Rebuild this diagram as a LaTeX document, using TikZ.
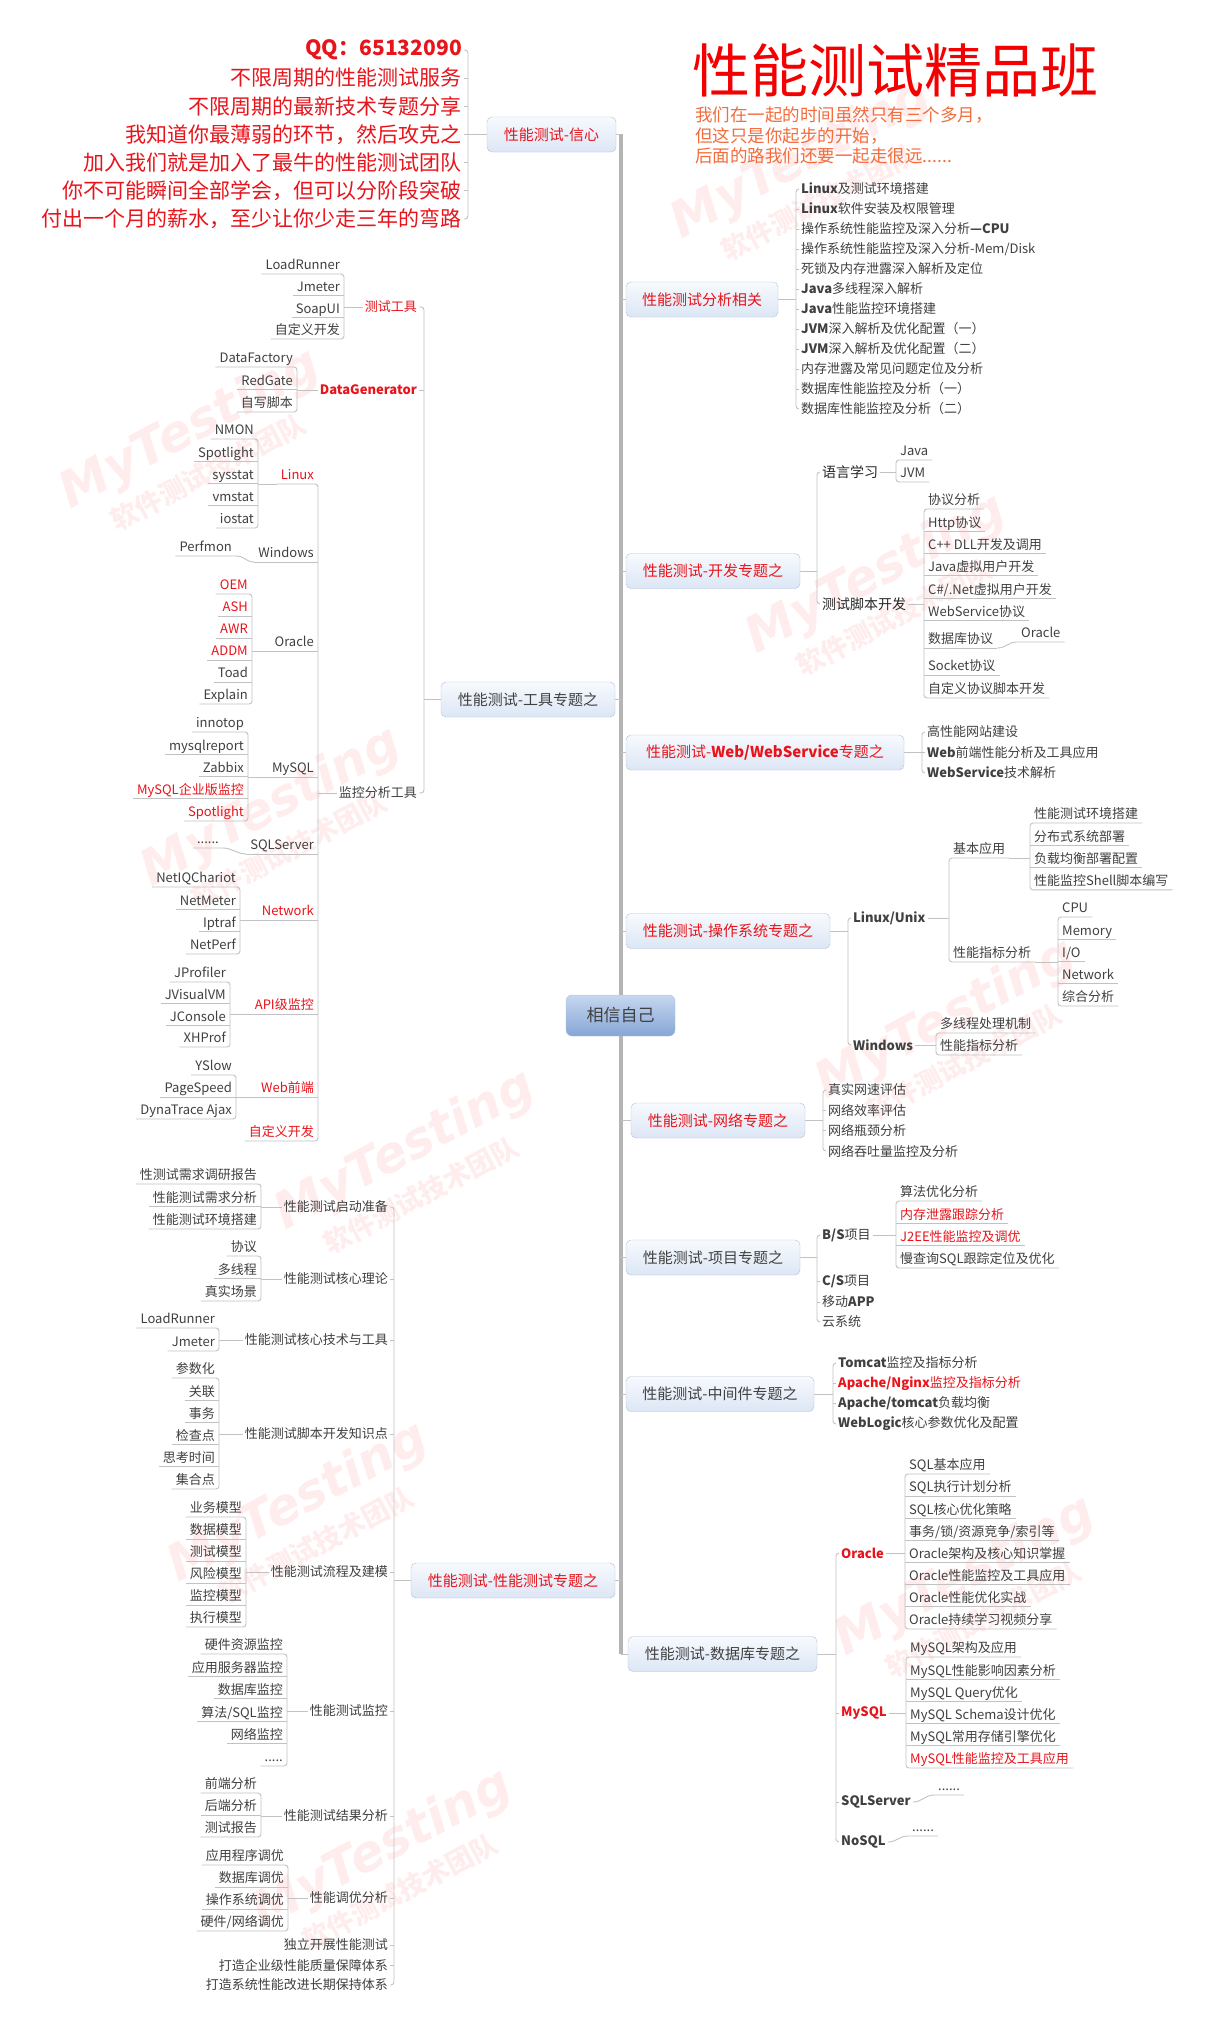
\documentclass[tikz,border=0pt]{standalone}
\usepackage{fontspec}
\setmainfont{Noto Sans CJK SC}
\newfontfamily\markfont{DejaVu Sans}
\usepackage{tikz}
\usetikzlibrary{positioning,calc,backgrounds}
\definecolor{mmink}{HTML}{404040}
\definecolor{mmred}{HTML}{E8141B}
\definecolor{mmline}{HTML}{C2C2C2}
\definecolor{mmtrunk}{HTML}{B4B4B4}
\definecolor{boxline}{HTML}{B3C1D8}
\definecolor{boxtop}{HTML}{F7FAFE}
\definecolor{boxbot}{HTML}{DCE6F5}
\definecolor{coretop}{HTML}{C6D7F0}
\definecolor{corebot}{HTML}{86A5D6}
\definecolor{subорange}{HTML}{F36C3C}
\definecolor{mottoorange}{HTML}{F36C3C}
\definecolor{titlered}{HTML}{F40000}

\begin{document}
\begin{tikzpicture}[x=1pt, y=-1pt,
    core/.style={draw=boxline, rounded corners=6pt, top color=coretop, bottom color=corebot,
        minimum width=109pt, minimum height=41pt, font=\fontsize{17}{19}\selectfont, text=mmink},
    topic/.style={draw=boxline, rounded corners=5pt, top color=boxtop, bottom color=boxbot,
        minimum height=35pt, font=\fontsize{15}{17}\selectfont, text=mmink},
    hot/.style={text=mmred},
    sub/.style={font=\fontsize{13}{15}\selectfont, text=mmink, inner xsep=2pt, inner ysep=1pt},
    strong/.style={font=\fontsize{13}{15}\selectfont\bfseries},
    big/.style={font=\fontsize{14}{16}\selectfont, text=black!85},
    subr/.style={sub, anchor=west},
    subl/.style={sub, anchor=east},
    leafr/.style={sub, anchor=south west, text height=10pt, text depth=3pt, inner xsep=4pt},
    leafl/.style={sub, anchor=south east, text height=10pt, text depth=3pt, inner xsep=4pt},
    slogan/.style={anchor=east, font=\fontsize{21}{23}\selectfont, text=mmred, inner xsep=2pt, inner ysep=1pt},
    link/.style={draw=mmline, line width=0.9pt, rounded corners=3pt},
    under/.style={draw=mmline, line width=0.9pt},
    trunk/.style={draw=mmtrunk, line width=4pt},
    wmark/.style={font=\markfont\bfseries\itshape\fontsize{50}{50}\selectfont, text=red, text opacity=0.07, rotate=28},
    wmsub/.style={font=\bfseries\fontsize{27}{27}\selectfont, text=red, text opacity=0.07, rotate=28}
]
\useasboundingbox (0,0) rectangle (1219,2031);

% heading
\node[anchor=west, inner sep=0, font=\fontsize{58}{60}\selectfont, text=titlered] (title) at (692,70) {性能测试精品班};
\node[anchor=west, inner sep=0, font=\fontsize{17.5}{20}\selectfont, text=mottoorange] (motto1) at (695,115) {我们在一起的时间虽然只有三个多月，};
\node[anchor=west, inner sep=0, font=\fontsize{17.5}{20}\selectfont, text=mottoorange] (motto2) at (695,136) {但这只是你起步的开始，};
\node[anchor=west, inner sep=0, font=\fontsize{17.5}{20}\selectfont, text=mottoorange] (motto3) at (695,156) {后面的路我们还要一起走很远......};

% centre and main topics
\node[core] (core) at (620.5,1015.5) {相信自己};
\node[topic, hot, minimum width=129pt] (faith) at (551.5,134.5) {性能测试-信心};
\node[topic, minimum width=174pt] (tools) at (528,699.5) {性能测试-工具专题之};
\node[topic, hot, minimum width=204pt] (perft) at (513,1580.5) {性能测试-性能测试专题之};
\node[topic, hot, minimum width=152pt] (anal) at (702,299.5) {性能测试分析相关};
\node[topic, hot, minimum width=174pt] (devt) at (713,571) {性能测试-开发专题之};
\node[topic, hot, minimum width=278pt] (webt) at (765,752.5) {性能测试-\textbf{Web/WebService}专题之};
\node[topic, hot, minimum width=204pt] (ost) at (728,931) {性能测试-操作系统专题之};
\node[topic, hot, minimum width=174pt] (nett) at (718,1120.5) {性能测试-网络专题之};
\node[topic, minimum width=174pt] (projt) at (713,1257.5) {性能测试-项目专题之};
\node[topic, minimum width=188pt] (midt) at (720,1394) {性能测试-中间件专题之};
\node[topic, minimum width=189pt] (dbt) at (722.5,1654) {性能测试-数据库专题之};

% confidence slogans
\coordinate (faithb) at (468,134.5);
\node[slogan, font=\fontsize{21}{23}\selectfont\bfseries] (qq) at (464,50) {QQ：65132090};
\foreach \t [count=\i] in {不限周期的性能测试服务, 不限周期的最新技术专题分享, 我知道你最薄弱的环节，然后攻克之,
    加入我们就是加入了最牛的性能测试团队, 你不可能瞬间全部学会，但可以分阶段突破, 付出一个月的薪水，至少让你少走三年的弯路}
  \node[slogan] (sl\i) at (464,{78+28.2*(\i-1)}) {\t};

% analysis
\coordinate (analb) at (796,299.5);
\foreach \t [count=\i] in {\textbf{Linux}及测试环境搭建, \textbf{Linux}软件安装及权限管理,
    操作系统性能监控及深入分析\textbf{—CPU}, 操作系统性能监控及深入分析-Mem/Disk, 死锁及内存泄露深入解析及定位,
    \textbf{Java}多线程深入解析, \textbf{Java}性能监控环境搭建, \textbf{JVM}深入解析及优化配置（一）,
    \textbf{JVM}深入解析及优化配置（二）, 内存泄露及常见问题定位及分析, 数据库性能监控及分析（一）, 数据库性能监控及分析（二）}
  \node[subr] (an\i) at (799,{189+20*(\i-1)}) {\t};

% development
\coordinate (devb) at (817,571);
\node[subr, big] (lang) at (820,472) {语言学习};
\node[subr, big] (script) at (820,604) {测试脚本开发};
\node[leafr] (java) at (896,460) {Java};
\node[leafr] (jvm) at (896,482) {JVM};
\foreach \t [count=\i] in {协议分析, Http协议, C++ DLL开发及调用, Java虚拟用户开发, C\#/.Net虚拟用户开发, WebService协议}
  \node[leafr] (sc\i) at (924,{509+22.3*(\i-1)}) {\t};
\node[leafr] (sc7) at (924,648) {数据库协议};
\node[leafr] (sc8) at (924,675) {Socket协议};
\node[leafr] (sc9) at (924,698) {自定义协议脚本开发};
\node[leafr] (scora) at (1017,642) {Oracle};

% web
\coordinate (webb) at (922,752.5);
\foreach \t [count=\i] in {高性能网站建设, \textbf{Web}前端性能分析及工具应用, \textbf{WebService}技术解析}
  \node[subr] (wb\i) at (925,{732+20.5*(\i-1)}) {\t};

% operating system
\coordinate (osb) at (848,931);
\node[subr, strong] (lnx) at (851,918) {Linux/Unix};
\node[subr, strong] (wnd) at (851,1045) {Windows};
\node[leafr] (basic) at (949,858) {基本应用};
\node[leafr] (metric) at (949,962) {性能指标分析};
\foreach \t [count=\i] in {性能测试环境搭建, 分布式系统部署, 负载均衡部署配置, 性能监控Shell脚本编写}
  \node[leafr] (ba\i) at (1030,{823+22.3*(\i-1)}) {\t};
\foreach \t [count=\i] in {CPU, Memory, I/O, Network, 综合分析}
  \node[leafr] (me\i) at (1058,{917+22.25*(\i-1)}) {\t};
\node[leafr] (wn1) at (936,1033) {多线程处理机制};
\node[leafr] (wn2) at (936,1055) {性能指标分析};

% network
\coordinate (netb) at (823,1120.5);
\foreach \t [count=\i] in {真实网速评估, 网络效率评估, 网络瓶颈分析, 网络吞吐量监控及分析}
  \node[subr] (nt\i) at (826,{1090+20.33*(\i-1)}) {\t};

% projects
\coordinate (projb) at (817,1257.5);
\node[subr] (bs) at (820,1235) {\textbf{B/S}项目};
\node[subr] (cs) at (820,1281) {\textbf{C/S}项目};
\node[subr] (app) at (820,1302) {移动\textbf{APP}};
\node[subr] (cloud) at (820,1322) {云系统};
\foreach \t [count=\i] in {算法优化分析, \textcolor{mmred}{内存泄露跟踪分析}, \textcolor{mmred}{J2EE性能监控及调优}, 慢查询SQL跟踪定位及优化}
  \node[leafr] (bsi\i) at (896,{1201+22.33*(\i-1)}) {\t};

% middleware
\coordinate (midb) at (833,1394);
\foreach \t [count=\i] in {\textbf{Tomcat}监控及指标分析, \textcolor{mmred}{\textbf{Apache/Nginx}监控及指标分析},
    \textbf{Apache/tomcat}负载均衡, \textbf{WebLogic}核心参数优化及配置}
  \node[subr] (md\i) at (836,{1363+20.33*(\i-1)}) {\t};

% databases
\coordinate (dbb) at (836,1654);
\node[subr, strong, hot] (orcl) at (839,1553) {Oracle};
\node[subr, strong, hot] (mysq) at (839,1713) {MySQL};
\node[subr, strong] (mssq) at (839,1802) {SQLServer};
\node[subr, strong] (nosq) at (839,1842) {NoSQL};
\foreach \t [count=\i] in {SQL基本应用, SQL执行计划分析, SQL核心优化策略, 事务/锁/资源竞争/索引等,
    Oracle架构及核心知识掌握, Oracle性能监控及工具应用, Oracle性能优化实战, Oracle持续学习视频分享}
  \node[leafr] (oc\i) at (905,{1474+22.14*(\i-1)}) {\t};
\foreach \t [count=\i] in {MySQL架构及应用, MySQL性能影响因素分析, MySQL Query优化, MySQL Schema设计优化,
    MySQL常用存储引擎优化, \textcolor{mmred}{MySQL性能监控及工具应用}}
  \node[leafr] (my\i) at (906,{1657+22.2*(\i-1)}) {\t};
\node[leafr] (msdots) at (934,1795) {......};
\node[leafr] (nodots) at (908,1836) {......};

% tools
\coordinate (toolsb) at (424,699.5);
\node[subl, hot] (ttool) at (419,307) {测试工具};
\node[subl, strong, hot] (dgen) at (419,390) {DataGenerator};
\node[subl] (mtool) at (419,793) {监控分析工具};
\foreach \t [count=\i] in {LoadRunner, Jmeter, SoapUI, 自定义开发}
  \node[leafl] (tt\i) at (344,{274+21.67*(\i-1)}) {\t};
\foreach \t [count=\i] in {DataFactory, RedGate, 自写脚本}
  \node[leafl] (dg\i) at (297,{367+22.5*(\i-1)}) {\t};
\node[leafl, hot] (mlin) at (318,484) {Linux};
\node[leafl] (mwin) at (318,562) {Windows};
\node[leafl] (morc) at (318,651) {Oracle};
\node[leafl] (mmys) at (318,777) {MySQL};
\node[leafl] (msql) at (318,854) {SQLServer};
\node[leafl, hot] (mnet) at (318,920) {Network};
\node[leafl, hot] (mapi) at (318,1014) {API级监控};
\node[leafl, hot] (mweb) at (318,1097) {Web前端};
\node[leafl, hot] (mcus) at (318,1141) {自定义开发};
\foreach \t [count=\i] in {NMON, Spotlight, sysstat, vmstat, iostat}
  \node[leafl] (ln\i) at (258,{439+22.25*(\i-1)}) {\t};
\node[leafl] (pfm) at (236,556) {Perfmon};
\foreach \t [count=\i] in {\textcolor{mmred}{OEM}, \textcolor{mmred}{ASH}, \textcolor{mmred}{AWR}, \textcolor{mmred}{ADDM}, Toad, Explain}
  \node[leafl] (ol\i) at (252,{594+22*(\i-1)}) {\t};
\foreach \t [count=\i] in {innotop, mysqlreport, Zabbix, \textcolor{mmred}{MySQL企业版监控}, \textcolor{mmred}{Spotlight}}
  \node[leafl] (ms\i) at (248,{732+22.25*(\i-1)}) {\t};
\node[leafl] (sqd) at (223,848) {......};
\foreach \t [count=\i] in {NetIQChariot, NetMeter, Iptraf, NetPerf}
  \node[leafl] (nw\i) at (240,{887+22.33*(\i-1)}) {\t};
\foreach \t [count=\i] in {JProfiler, JVisualVM, JConsole, XHProf}
  \node[leafl] (ap\i) at (230,{982+21.67*(\i-1)}) {\t};
\foreach \t [count=\i] in {YSlow, PageSpeed, DynaTrace Ajax}
  \node[leafl] (wf\i) at (236,{1075+22*(\i-1)}) {\t};

% performance testing
\coordinate (perftb) at (394,1580.5);
\node[subl] (pa) at (390,1207) {性能测试启动准备};
\node[subl] (pb) at (390,1279) {性能测试核心理论};
\node[subl] (pc) at (390,1340) {性能测试核心技术与工具};
\node[subl] (pd) at (390,1434) {性能测试脚本开发知识点};
\node[subl] (pe) at (390,1572) {性能测试流程及建模};
\node[subl] (pf) at (390,1711) {性能测试监控};
\node[subl] (pg) at (390,1816) {性能测试结果分析};
\node[subl] (ph) at (390,1898) {性能调优分析};
\node[subl] (pi) at (390,1945) {独立开展性能测试};
\node[subl] (pj) at (390,1965) {打造企业级性能质量保障体系};
\node[subl] (pk) at (390,1985) {打造系统性能改进长期保持体系};
\foreach \t [count=\i] in {性测试需求调研报告, 性能测试需求分析, 性能测试环境搭建}
  \node[leafl] (pa\i) at (261,{1184+22.5*(\i-1)}) {\t};
\foreach \t [count=\i] in {协议, 多线程, 真实场景}
  \node[leafl] (pb\i) at (261,{1256+22.5*(\i-1)}) {\t};
\foreach \t [count=\i] in {LoadRunner, Jmeter}
  \node[leafl] (pc\i) at (219,{1328+23*(\i-1)}) {\t};
\foreach \t [count=\i] in {参数化, 关联, 事务, 检查点, 思考时间, 集合点}
  \node[leafl] (pd\i) at (219,{1378+22.2*(\i-1)}) {\t};
\foreach \t [count=\i] in {业务模型, 数据模型, 测试模型, 风险模型, 监控模型, 执行模型}
  \node[leafl] (pe\i) at (246,{1517+22*(\i-1)}) {\t};
\foreach \t [count=\i] in {硬件资源监控, 应用服务器监控, 数据库监控, 算法/SQL监控, 网络监控}
  \node[leafl] (pf\i) at (287,{1654+22.4*(\i-1)}) {\t};
\node[leafl] (pf6) at (287,1766) {.....};
\foreach \t [count=\i] in {前端分析, 后端分析, 测试报告}
  \node[leafl] (pg\i) at (261,{1793+22*(\i-1)}) {\t};
\foreach \t [count=\i] in {应用程序调优, 数据库调优, 操作系统调优, 硬件/网络调优}
  \node[leafl] (ph\i) at (288,{1865+22*(\i-1)}) {\t};

\begin{scope}[on background layer]
\fill[white] (0,0) rectangle (1219,2031);
% watermarks
\node[wmark] (wm1) at (801,160) {MyTesting};
\node[wmsub] (wm1s) at (819,202) {软件测试技术团队};
\node[wmark] (wm2) at (190,430) {MyTesting};
\node[wmsub] (wm2s) at (208,472) {软件测试技术团队};
\node[wmark] (wm3) at (876,575) {MyTesting};
\node[wmsub] (wm3s) at (894,617) {软件测试技术团队};
\node[wmark] (wm4) at (271,808) {MyTesting};
\node[wmsub] (wm4s) at (289,850) {软件测试技术团队};
\node[wmark] (wm5) at (946,1020) {MyTesting};
\node[wmsub] (wm5s) at (964,1062) {软件测试技术团队};
\node[wmark] (wm6) at (405,1151) {MyTesting};
\node[wmsub] (wm6s) at (421,1195) {软件测试技术团队};
\node[wmark] (wm7) at (298,1503) {MyTesting};
\node[wmsub] (wm7s) at (316,1545) {软件测试技术团队};
\node[wmark] (wm8) at (965,1577) {MyTesting};
\node[wmsub] (wm8s) at (983,1619) {软件测试技术团队};
\node[wmark] (wm9) at (382,1850) {MyTesting};
\node[wmsub] (wm9s) at (400,1892) {软件测试技术团队};

% trunk and main stubs
\draw[trunk] (core |- faith) -- (core |- dbt);
\foreach \n in {anal,devt,webt,ost,nett,projt,midt,dbt} \draw[under] (\n.west) -- (core |- \n);
\foreach \n in {faith,tools,perft} \draw[under] (\n.east) -- (core |- \n);

% slogans
\draw[link] (qq.east) -- (qq.east -| faithb) -- (sl6.east -| faithb) -- (sl6.east);
\foreach \i in {1,...,5} \draw[under] (sl\i.east) -- (sl\i.east -| faithb);
\draw[under] (faith.west) -- (faithb);

% analysis
\draw[link] (an1.west) -- (an1.west -| analb) -- (an12.west -| analb) -- (an12.west);
\foreach \i in {2,...,11} \draw[under] (an\i.west -| analb) -- (an\i.west);
\draw[under] (anal.east) -- (analb);

% development
\draw[link] (lang.west) -- (lang.west -| devb) -- (script.west -| devb) -- (script.west);
\draw[under] (devt.east) -- (devb);
\draw[link] (java.south east) -- (java.south west) -- (jvm.south west) -- (jvm.south east);
\draw[under] (lang.east) -- (lang.east -| java.south west);
\draw[link] (sc1.south east) -- (sc1.south west) -- (sc9.south west) -- (sc9.south east);
\foreach \i in {2,...,8} \draw[under] (sc\i.south west) -- (sc\i.south east);
\draw[under] (script.east) -- (script.east -| sc1.south west);
\draw[under] (sc7.south east) .. controls +(9,0) and +(-9,0) .. (scora.south west) -- (scora.south east);

% web
\draw[link] (wb1.west) -- (wb1.west -| webb) -- (wb3.west -| webb) -- (wb3.west);
\draw[under] (wb2.west -| webb) -- (wb2.west);
\draw[under] (webt.east) -- (webb);

% operating system
\draw[link] (lnx.west) -- (lnx.west -| osb) -- (wnd.west -| osb) -- (wnd.west);
\draw[under] (ost.east) -- (osb);
\draw[link] (basic.south east) -- (basic.south west) -- (metric.south west) -- (metric.south east);
\draw[under] (lnx.east) -- (lnx.east -| basic.south west);
\draw[under] (basic.south east) -- (basic.south east -| ba1.south west);
\draw[link] (ba1.south east) -- (ba1.south west) -- (ba4.south west) -- (ba4.south east);
\foreach \i in {2,3} \draw[under] (ba\i.south west) -- (ba\i.south east);
\draw[under] (metric.south east) -- (metric.south east -| me1.south west);
\draw[link] (me1.south east) -- (me1.south west) -- (me5.south west) -- (me5.south east);
\foreach \i in {2,3,4} \draw[under] (me\i.south west) -- (me\i.south east);
\draw[under] (wnd.east) -- (wnd.east -| wn1.south west);
\draw[link] (wn1.south east) -- (wn1.south west) -- (wn2.south west) -- (wn2.south east);

% network
\draw[link] (nt1.west) -- (nt1.west -| netb) -- (nt4.west -| netb) -- (nt4.west);
\foreach \i in {2,3} \draw[under] (nt\i.west -| netb) -- (nt\i.west);
\draw[under] (nett.east) -- (netb);

% projects
\draw[link] (bs.west) -- (bs.west -| projb) -- (cloud.west -| projb) -- (cloud.west);
\foreach \n in {cs,app} \draw[under] (\n.west -| projb) -- (\n.west);
\draw[under] (projt.east) -- (projb);
\draw[link] (bsi1.south east) -- (bsi1.south west) -- (bsi4.south west) -- (bsi4.south east);
\foreach \i in {2,3} \draw[under] (bsi\i.south west) -- (bsi\i.south east);
\draw[under] (bs.east) -- (bs.east -| bsi1.south west);

% middleware
\draw[link] (md1.west) -- (md1.west -| midb) -- (md4.west -| midb) -- (md4.west);
\foreach \i in {2,3} \draw[under] (md\i.west -| midb) -- (md\i.west);
\draw[under] (midt.east) -- (midb);

% databases
\draw[link] (orcl.west) -- (orcl.west -| dbb) -- (nosq.west -| dbb) -- (nosq.west);
\foreach \n in {mysq,mssq} \draw[under] (\n.west -| dbb) -- (\n.west);
\draw[under] (dbt.east) -- (dbb);
\draw[link] (oc1.south east) -- (oc1.south west) -- (oc8.south west) -- (oc8.south east);
\foreach \i in {2,...,7} \draw[under] (oc\i.south west) -- (oc\i.south east);
\draw[under] (orcl.east) -- (orcl.east -| oc1.south west);
\draw[link] (my1.south east) -- (my1.south west) -- (my6.south west) -- (my6.south east);
\foreach \i in {2,...,5} \draw[under] (my\i.south west) -- (my\i.south east);
\draw[under] (mysq.east) -- (mysq.east -| my1.south west);
\draw[under] (mssq.east) .. controls +(9,0) and +(-9,0) .. (msdots.south west) -- (msdots.south east);
\draw[under] (nosq.east) .. controls +(9,0) and +(-9,0) .. (nodots.south west) -- (nodots.south east);

% tools
\draw[link] (ttool.east) -- (ttool.east -| toolsb) -- (mtool.east -| toolsb) -- (mtool.east);
\draw[under] (dgen.east) -- (dgen.east -| toolsb);
\draw[under] (tools.west) -- (toolsb);
\draw[link] (tt1.south west) -- (tt1.south east) -- (tt4.south east) -- (tt4.south west);
\foreach \i in {2,3} \draw[under] (tt\i.south west) -- (tt\i.south east);
\draw[under] (ttool.west) -- (ttool.west -| tt1.south east);
\draw[link] (dg1.south west) -- (dg1.south east) -- (dg3.south east) -- (dg3.south west);
\draw[under] (dg2.south west) -- (dg2.south east);
\draw[under] (dgen.west) -- (dgen.west -| dg1.south east);
\draw[link] (mlin.south west) -- (mlin.south east) -- (mcus.south east) -- (mcus.south west);
\foreach \n in {mwin,morc,mmys,msql,mnet,mapi,mweb} \draw[under] (\n.south west) -- (\n.south east);
\draw[under] (mtool.west) -- (mtool.west -| mlin.south east);
\draw[under] (mlin.south west) -- (mlin.south west -| ln1.south east);
\draw[link] (ln1.south west) -- (ln1.south east) -- (ln5.south east) -- (ln5.south west);
\foreach \i in {2,3,4} \draw[under] (ln\i.south west) -- (ln\i.south east);
\draw[under] (mwin.south west) .. controls +(-9,0) and +(9,0) .. (pfm.south east) -- (pfm.south west);
\draw[under] (morc.south west) -- (morc.south west -| ol1.south east);
\draw[link] (ol1.south west) -- (ol1.south east) -- (ol6.south east) -- (ol6.south west);
\foreach \i in {2,...,5} \draw[under] (ol\i.south west) -- (ol\i.south east);
\draw[under] (mmys.south west) -- (mmys.south west -| ms1.south east);
\draw[link] (ms1.south west) -- (ms1.south east) -- (ms5.south east) -- (ms5.south west);
\foreach \i in {2,3,4} \draw[under] (ms\i.south west) -- (ms\i.south east);
\draw[under] (msql.south west) .. controls +(-9,0) and +(9,0) .. (sqd.south east) -- (sqd.south west);
\draw[under] (mnet.south west) -- (mnet.south west -| nw1.south east);
\draw[link] (nw1.south west) -- (nw1.south east) -- (nw4.south east) -- (nw4.south west);
\foreach \i in {2,3} \draw[under] (nw\i.south west) -- (nw\i.south east);
\draw[under] (mapi.south west) -- (mapi.south west -| ap1.south east);
\draw[link] (ap1.south west) -- (ap1.south east) -- (ap4.south east) -- (ap4.south west);
\foreach \i in {2,3} \draw[under] (ap\i.south west) -- (ap\i.south east);
\draw[under] (mweb.south west) -- (mweb.south west -| wf1.south east);
\draw[link] (wf1.south west) -- (wf1.south east) -- (wf3.south east) -- (wf3.south west);
\draw[under] (wf2.south west) -- (wf2.south east);

% performance testing
\draw[link] (pa.east) -- (pa.east -| perftb) -- (pk.east -| perftb) -- (pk.east);
\foreach \n in {pb,pc,pd,pe,pf,pg,ph,pi,pj} \draw[under] (\n.east) -- (\n.east -| perftb);
\draw[under] (perft.west) -- (perftb);
\draw[under] (pa.west) -- (pa.west -| pa1.south east);
\draw[link] (pa1.south west) -- (pa1.south east) -- (pa3.south east) -- (pa3.south west);
\draw[under] (pa2.south west) -- (pa2.south east);
\draw[under] (pb.west) -- (pb.west -| pb1.south east);
\draw[link] (pb1.south west) -- (pb1.south east) -- (pb3.south east) -- (pb3.south west);
\draw[under] (pb2.south west) -- (pb2.south east);
\draw[under] (pc.west) -- (pc.west -| pc1.south east);
\draw[link] (pc1.south west) -- (pc1.south east) -- (pc2.south east) -- (pc2.south west);
\draw[under] (pd.west) -- (pd.west -| pd1.south east);
\draw[link] (pd1.south west) -- (pd1.south east) -- (pd6.south east) -- (pd6.south west);
\foreach \i in {2,...,5} \draw[under] (pd\i.south west) -- (pd\i.south east);
\draw[under] (pe.west) -- (pe.west -| pe1.south east);
\draw[link] (pe1.south west) -- (pe1.south east) -- (pe6.south east) -- (pe6.south west);
\foreach \i in {2,...,5} \draw[under] (pe\i.south west) -- (pe\i.south east);
\draw[under] (pf.west) -- (pf.west -| pf1.south east);
\draw[link] (pf1.south west) -- (pf1.south east) -- (pf6.south east) -- (pf6.south west);
\foreach \i in {2,...,5} \draw[under] (pf\i.south west) -- (pf\i.south east);
\draw[under] (pg.west) -- (pg.west -| pg1.south east);
\draw[link] (pg1.south west) -- (pg1.south east) -- (pg3.south east) -- (pg3.south west);
\draw[under] (pg2.south west) -- (pg2.south east);
\draw[under] (ph.west) -- (ph.west -| ph1.south east);
\draw[link] (ph1.south west) -- (ph1.south east) -- (ph4.south east) -- (ph4.south west);
\foreach \i in {2,3} \draw[under] (ph\i.south west) -- (ph\i.south east);
\end{scope}
\end{tikzpicture}
\end{document}
